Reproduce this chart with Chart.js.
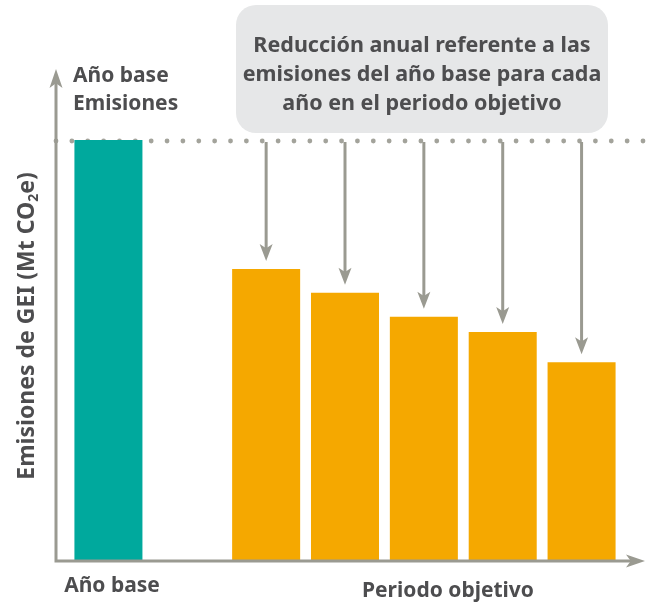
<!DOCTYPE html>
<html lang="es">
<head>
  <meta charset="UTF-8" />
  <title>Emisiones año base vs periodo objetivo</title>
  <style>
    * { box-sizing: border-box; margin: 0; padding: 0; }
    body { background: #fff; width: 652px; height: 605px; overflow: hidden; }
    #wrap { width: 652px; height: 605px; }
  </style>
</head>
<body>
  <div id="wrap"><canvas id="chart" width="652" height="605"></canvas></div>

  <script src="https://cdn.jsdelivr.net/npm/chart.js"></script>
  <script>
    // datos
    const categories = ['Año base', '', 'Año 1', 'Año 2', 'Año 3', 'Año 4', 'Año 5'];
    const emissions = [100, null, 69.3, 63.6, 57.9, 54.3, 47.1];
    const baseValue = 100;
    const yLabel = 'Emisiones de GEI (Mt CO';
    const xLabels = ['Año base', 'Periodo objetivo'];
    const topLabel = ['Año base', 'Emisiones'];
    const callout = ['Reducción anual referente a las', 'emisiones del año base para cada', 'año en el periodo objetivo'];

    const TEAL = '#00a99d';
    const ORANGE = '#f5a800';
    const GREY = '#9a9a91';
    const TEXT = '#4d4d4f';
    const FONT = '"Noto Sans", "Open Sans", sans-serif';

    function arrowHead(ctx, x, y, dir, w, len) {
      // dir: 'down' | 'up' | 'right'
      ctx.beginPath();
      if (dir === 'down') {
        ctx.moveTo(x, y); ctx.lineTo(x - w / 2, y - len); ctx.lineTo(x, y - len * 0.75); ctx.lineTo(x + w / 2, y - len);
      } else if (dir === 'up') {
        ctx.moveTo(x, y); ctx.lineTo(x - w / 2, y + len); ctx.lineTo(x, y + len * 0.75); ctx.lineTo(x + w / 2, y + len);
      } else {
        ctx.moveTo(x, y); ctx.lineTo(x - len, y - w / 2); ctx.lineTo(x - len * 0.75, y); ctx.lineTo(x - len, y + w / 2);
      }
      ctx.closePath();
      ctx.fill();
    }

    function roundRect(ctx, x, y, w, h, r) {
      ctx.beginPath();
      ctx.moveTo(x + r, y);
      ctx.arcTo(x + w, y, x + w, y + h, r);
      ctx.arcTo(x + w, y + h, x, y + h, r);
      ctx.arcTo(x, y + h, x, y, r);
      ctx.arcTo(x, y, x + w, y, r);
      ctx.closePath();
    }

    const decor = {
      id: 'decor',
      beforeDatasetsDraw(chart) {
        const { ctx, chartArea: a, scales: { y } } = chart;
        const axisX = a.left - 13;
        const rightEnd = a.right + 24;
        const yb = y.getPixelForValue(baseValue);
        ctx.save();
        // linea punteada del año base
        ctx.fillStyle = '#a3a39b';
        const step = (rightEnd - 2 - axisX) / 37;
        for (let i = 0; i <= 37; i++) {
          ctx.beginPath();
          ctx.arc(axisX + i * step, yb + 1, 2.4, 0, Math.PI * 2);
          ctx.fill();
        }
        ctx.restore();
      },
      afterDraw(chart) {
        const { ctx, chartArea: a, scales: { x, y } } = chart;
        const axisX = a.left - 13;
        const rightEnd = a.right + 24;
        const yb = y.getPixelForValue(baseValue);
        ctx.save();

        // ejes
        ctx.strokeStyle = GREY;
        ctx.fillStyle = GREY;
        ctx.lineWidth = 3;
        ctx.beginPath();
        ctx.moveTo(axisX, a.top + 14);
        ctx.lineTo(axisX, a.bottom + 1);
        ctx.lineTo(rightEnd - 14, a.bottom + 1);
        ctx.stroke();
        arrowHead(ctx, axisX, a.top, 'up', 13, 19);
        arrowHead(ctx, rightEnd, a.bottom + 1, 'right', 13, 19);

        // flechas de reduccion
        ctx.lineWidth = 3;
        emissions.forEach((v, i) => {
          if (i < 2 || v == null) return;
          const cx = x.getPixelForValue(i);
          const tip = y.getPixelForValue(v) - 8;
          ctx.beginPath();
          ctx.moveTo(cx, yb + 2);
          ctx.lineTo(cx, tip - 10);
          ctx.stroke();
          arrowHead(ctx, cx, tip, 'down', 13, 17);
        });

        // recuadro
        ctx.fillStyle = '#e6e7e8';
        roundRect(ctx, 236, 5, 372, 128, 20);
        ctx.fill();

        ctx.fillStyle = TEXT;
        ctx.textAlign = 'center';
        ctx.textBaseline = 'middle';
        ctx.font = 'bold 21.5px ' + FONT;
        callout.forEach((t, i) => ctx.fillText(t, 422, 46 + i * 29));

        // etiqueta superior
        ctx.textAlign = 'left';
        ctx.font = 'bold 21px ' + FONT;
        topLabel.forEach((t, i) => ctx.fillText(t, 73, 76 + i * 28));

        // etiquetas del eje x
        ctx.textAlign = 'center';
        ctx.fillText(xLabels[0], 112, 586);
        ctx.fillText(xLabels[1], 448, 591);

        // titulo del eje y con subindice
        ctx.translate(27, 326);
        ctx.rotate(-Math.PI / 2);
        ctx.font = 'bold 23px ' + FONT;
        const w1 = ctx.measureText(yLabel).width;
        ctx.font = 'bold 14px ' + FONT;
        const w2 = ctx.measureText('2').width;
        ctx.font = 'bold 23px ' + FONT;
        const w3 = ctx.measureText('e)').width;
        let sx = -(w1 + w2 + w3) / 2;
        ctx.textAlign = 'left';
        ctx.fillText(yLabel, sx, 0);
        sx += w1;
        ctx.font = 'bold 14px ' + FONT;
        ctx.fillText('2', sx, 7);
        sx += w2;
        ctx.font = 'bold 23px ' + FONT;
        ctx.fillText('e)', sx, 0);

        ctx.restore();
      }
    };

    new Chart(document.getElementById('chart'), {
      type: 'bar',
      data: {
        labels: categories,
        datasets: [{
          data: emissions,
          backgroundColor: categories.map((c, i) => i === 0 ? TEAL : ORANGE),
          borderWidth: 0,
          barPercentage: 1,
          categoryPercentage: 0.8625
        }]
      },
      options: {
        responsive: false,
        animation: false,
        layout: { padding: { left: 69, right: 31, top: 69, bottom: 45 } },
        plugins: { legend: { display: false }, tooltip: { enabled: false } },
        scales: {
          x: { display: false },
          y: { display: false, min: 0, max: 116.9 }
        }
      },
      plugins: [decor]
    });
  </script>
</body>
</html>
